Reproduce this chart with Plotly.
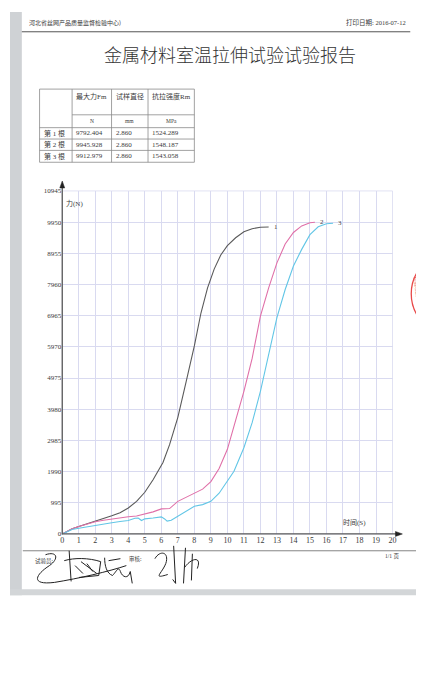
import plotly.graph_objects as go

# ---------------- data ----------------
table_rows = ["第 1 根", "第 2 根", "第 3 根"]
max_force = ["9792.404", "9945.928", "9912.979"]
diameter = ["2.860", "2.860", "2.860"]
tensile = ["1524.289", "1548.187", "1543.058"]
col_headers = ["最大力Fm", "试样直径", "抗拉强度Rm"]
col_units = ["N", "mm", "MPa"]

y_ticks = [0, 995, 1990, 2985, 3980, 4975, 5970, 6965, 7960, 8955, 9950, 10945]
x_ticks = list(range(0, 21))

t1 = [0, 0.3, 0.6, 1, 1.5, 2, 2.5, 3, 3.5, 4, 4.5, 5, 5.5, 5.9, 6.1, 6.5, 7, 7.5, 8,
      8.4, 8.8, 9.2, 9.6, 10, 10.5, 11, 11.5, 12, 12.5]
f1 = [0, 90, 170, 240, 320, 400, 480, 580, 680, 830, 1040, 1330, 1730, 2100, 2280, 2850,
      3720, 4850, 6000, 7050, 7850, 8450, 8900, 9200, 9450, 9640, 9740, 9785, 9792]

t2 = [0, 0.3, 0.6, 1, 1.5, 2, 2.5, 3, 3.5, 4, 4.5, 5, 5.5, 6, 6.5, 7, 7.5, 8, 8.5, 9,
      9.5, 10, 10.5, 11, 11.5, 12, 12.5, 13, 13.5, 14, 14.5, 15, 15.3]
f2 = [0, 90, 170, 240, 320, 390, 440, 480, 520, 550, 575, 640, 705, 800, 810, 1040, 1165,
      1300, 1430, 1670, 2090, 2700, 3600, 4550, 5600, 6950, 7850, 8650, 9250, 9620, 9830,
      9930, 9946]

t3 = [0, 0.3, 0.6, 1, 1.5, 2, 2.5, 3, 3.5, 4, 4.4, 4.6, 4.8, 5, 5.5, 6, 6.2, 6.35, 6.6,
      7, 7.5, 8, 8.5, 9, 9.5, 10, 10.4, 11, 11.5, 12, 12.5, 13, 13.5, 14, 14.5, 15, 15.5,
      16, 16.4]
f3 = [0, 80, 140, 180, 230, 274, 320, 357, 400, 432, 500, 510, 430, 483, 510, 546, 480,
      410, 440, 568, 726, 883, 936, 1040, 1300, 1700, 2000, 2750, 3550, 4550, 5700, 6900,
      7800, 8550, 9080, 9550, 9800, 9900, 9913]

series = [("1", t1, f1, "#5a5a5a"), ("2", t2, f2, "#e070a8"), ("3", t3, f3, "#62c6e6")]

# ---------------- page geometry helpers (pixels -> paper) ----------------
W, H = 424, 700
def X(px):
    return px / W
def Y(py):
    return 1 - py / H

CJK = "Noto Sans CJK SC"
SERIF = "Liberation Serif, Noto Sans CJK SC"
INK = "#3a3a3a"
GRID = "#d9daf0"

fig = go.Figure()
for name, t, f, c in series:
    fig.add_trace(go.Scatter(x=t, y=f, mode="lines", line=dict(color=c, width=1.1),
                             name=name, showlegend=False, hoverinfo="skip"))

shapes = []
ann = []

# page background elements
shapes.append(dict(type="rect", xref="paper", yref="paper", x0=X(0), x1=X(12), y0=Y(0), y1=Y(590),
                   fillcolor="#cfd2d5", line=dict(width=0), layer="below"))
shapes.append(dict(type="rect", xref="paper", yref="paper", x0=X(0), x1=X(424), y0=Y(584), y1=Y(590),
                   fillcolor="#d3d6d8", line=dict(width=0), layer="below"))
shapes.append(dict(type="rect", xref="paper", yref="paper", x0=X(418), x1=X(424), y0=Y(0), y1=Y(584),
                   fillcolor="#f1f1f1", line=dict(width=0), layer="below"))

# header
ann.append(dict(text="河北省丝网产品质量监督检验中心)", x=X(17), y=Y(11), xanchor="left", yanchor="middle",
                font=dict(family=CJK, size=6, color=INK)))
ann.append(dict(text="打印日期: 2016-07-12", x=X(404), y=Y(11), xanchor="right", yanchor="middle",
                font=dict(family=SERIF, size=6.5, color=INK)))
shapes.append(dict(type="line", xref="paper", yref="paper", x0=X(12), x1=X(406), y0=Y(20), y1=Y(20),
                   line=dict(color="#555", width=1)))
ann.append(dict(text="金属材料室温拉伸试验试验报告", x=X(223), y=Y(42), xanchor="center", yanchor="middle",
                font=dict(family=CJK, size=18, color="#333", weight=300)))

# table
cols = [30, 63, 103, 140, 187]
tl = dict(color="#8a8a8a", width=0.8)
for cx in cols:
    shapes.append(dict(type="line", xref="paper", yref="paper", x0=X(cx), x1=X(cx), y0=Y(78), y1=Y(152), line=tl))
for ry, x0 in [(78, 30), (104, 63), (117, 30), (128.5, 30), (140, 30), (152, 30)]:
    shapes.append(dict(type="line", xref="paper", yref="paper", x0=X(x0), x1=X(187), y0=Y(ry), y1=Y(ry), line=tl))
for i, (h, u) in enumerate(zip(col_headers, col_units)):
    ann.append(dict(text=h, x=X(cols[i + 1] + 2), y=Y(85), xanchor="left", yanchor="middle",
                    font=dict(family=SERIF, size=7, color=INK)))
    ann.append(dict(text=u, x=X((cols[i + 1] + cols[i + 2]) / 2), y=Y(110.5), xanchor="center", yanchor="middle",
                    font=dict(family=SERIF, size=5.5, color=INK)))
row_y = [122.8, 134.3, 146]
for i, ry in enumerate(row_y):
    for j, val in enumerate([table_rows[i], max_force[i], diameter[i], tensile[i]]):
        ann.append(dict(text=val, x=X(cols[j] + 2), y=Y(ry), xanchor="left", yanchor="middle",
                        font=dict(family=SERIF, size=7, color=INK)))

# chart axes decorations
ax_c = "#5a5a5a"
shapes.append(dict(type="rect", xref="paper", yref="paper", x0=X(53), x1=X(388), y0=Y(528), y1=Y(181),
                   line=dict(color=GRID, width=0.8)))
shapes.append(dict(type="line", xref="paper", yref="paper", x0=X(53), x1=X(53), y0=Y(528.5), y1=Y(176),
                   line=dict(color=ax_c, width=1.3)))
shapes.append(dict(type="line", xref="paper", yref="paper", x0=X(53), x1=X(393), y0=Y(528), y1=Y(528),
                   line=dict(color=ax_c, width=1.3)))
shapes.append(dict(type="path", xref="paper", yref="paper",
                   path=f"M {X(50.5)} {Y(178)} L {X(53)} {Y(171)} L {X(55.5)} {Y(178)} Z",
                   fillcolor="#222", line=dict(color="#222", width=0.5)))
shapes.append(dict(type="path", xref="paper", yref="paper",
                   path=f"M {X(391)} {Y(525.5)} L {X(398)} {Y(528)} L {X(391)} {Y(530.5)} Z",
                   fillcolor="#222", line=dict(color="#222", width=0.5)))
ann.append(dict(text="力(N)", x=X(55), y=Y(194), xanchor="left", yanchor="middle",
                font=dict(family=SERIF, size=7, color=INK)))
ann.append(dict(text="时间(S)", x=X(363), y=Y(516), xanchor="right", yanchor="middle",
                font=dict(family=SERIF, size=7, color=INK)))

# curve end labels
for name, t, f, c in series:
    ann.append(dict(text=name, x=t[-1], y=f[-1], xref="x", yref="y", xanchor="left", yanchor="middle",
                    xshift=3, showarrow=False, font=dict(family=SERIF, size=7, color="#444")))

# footer
shapes.append(dict(type="line", xref="paper", yref="paper", x0=X(13), x1=X(412), y0=Y(545), y1=Y(545),
                   line=dict(color="#666", width=0.8)))
ann.append(dict(text="试验员:", x=X(23), y=Y(555), xanchor="left", yanchor="middle",
                font=dict(family=CJK, size=5.5, color=INK)))
ann.append(dict(text="审核:", x=X(119), y=Y(553), xanchor="left", yanchor="middle",
                font=dict(family=CJK, size=5.5, color=INK)))
ann.append(dict(text="1/1 页", x=X(378), y=Y(551), xanchor="left", yanchor="middle",
                font=dict(family=SERIF, size=5.5, color=INK)))

# handwritten signatures (rough strokes)
def pathpx(pts_cmds):
    out = []
    for cmd in pts_cmds:
        if isinstance(cmd, str):
            out.append(cmd)
        else:
            out.append(f"{X(cmd[0]):.5f},{Y(cmd[1]):.5f}")
    return " ".join(out)

sig = dict(color="#222", width=1)
strokes = [
    ["M", (36, 549), "C", (48, 545), (50, 553), (40, 560), "C", (26, 569), (20, 580), (45, 577),
     "C", (70, 573), (100, 566), (118, 560)],
    ["M", (60, 545), "L", (62, 576)],
    ["M", (55, 555), "C", (65, 552), (80, 552), (92, 556), "L", (90, 570), "L", (70, 572)],
    ["M", (66, 560), "L", (74, 568), "M", (78, 558), "L", (84, 566), "M", (72, 556), "L", (88, 568)],
    ["M", (96, 552), "C", (96, 560), (98, 568), (104, 570), "C", (108, 566), (110, 560), (112, 566),
     "C", (114, 572), (120, 574), (122, 566), "L", (124, 578)],
    ["M", (100, 555), "L", (112, 553)],
    ["M", (147, 553), "C", (152, 544), (162, 546), (158, 558), "C", (154, 568), (144, 574), (160, 569)],
    ["M", (166, 540), "L", (168, 578), "L", (165, 574)],
    ["M", (178, 542), "L", (176, 578)],
    ["M", (177, 562), "C", (184, 552), (195, 550), (190, 563), "M", (185, 548), "L", (184, 575)],
]
for s in strokes:
    shapes.append(dict(type="path", xref="paper", yref="paper", path=pathpx(s), line=sig))

# red stamp (partially visible at right edge)
shapes.append(dict(type="circle", xref="paper", yref="paper", x0=X(407), x1=X(493), y0=Y(243), y1=Y(327),
                   line=dict(color="#e84848", width=1.3)))
ann.append(dict(text="检验检测专用章", x=X(414), y=Y(285), xanchor="center", yanchor="middle", textangle=82,
                font=dict(family=CJK, size=5, color="#e85050")))

fig.update_layout(
    width=W, height=H, autosize=False,
    margin=dict(l=0, r=0, t=0, b=0),
    paper_bgcolor="white", plot_bgcolor="rgba(0,0,0,0)",
    shapes=shapes,
    xaxis=dict(domain=[X(53), X(388)], range=[0, 20], tickvals=x_ticks, ticktext=[str(v) for v in x_ticks],
               showgrid=True, gridcolor=GRID, gridwidth=0.8, zeroline=False, showline=False,
               ticks="", tickfont=dict(family=SERIF, size=8, color=INK), fixedrange=True),
    yaxis=dict(domain=[Y(528), Y(181)], range=[0, 10945], tickvals=y_ticks, ticktext=[str(v) for v in y_ticks],
               showgrid=True, gridcolor=GRID, gridwidth=0.8, zeroline=False, showline=False,
               ticks="", tickfont=dict(family=SERIF, size=7, color=INK), fixedrange=True),
    showlegend=False,
)
for a in ann:
    a.setdefault("xref", "paper")
    a.setdefault("yref", "paper")
    a.setdefault("showarrow", False)
    fig.add_annotation(**a)

fig.write_html("out.html")
